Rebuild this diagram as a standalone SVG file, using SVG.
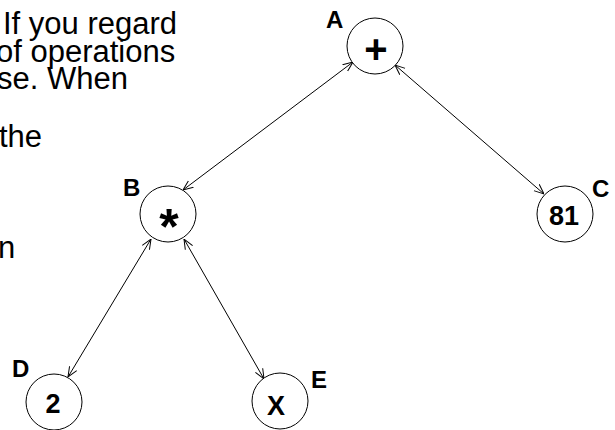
<svg xmlns="http://www.w3.org/2000/svg" width="615" height="430" viewBox="0 0 615 430">
<style>
.para{font-family:"Liberation Sans",Arial,sans-serif;font-size:31px;fill:#000}
.lbl{font-family:"Liberation Sans",Arial,sans-serif;font-size:24px;font-weight:bold;fill:#000}
.val{font-family:"Liberation Sans",Arial,sans-serif;font-size:27px;font-weight:bold;fill:#000;text-anchor:middle}
.node circle{fill:#fff;stroke:#000;stroke-width:1}
.edge{stroke:#000;stroke-width:1;fill:none;marker-start:url(#ah);marker-end:url(#ah)}
</style>
<defs>
<marker id="ah" viewBox="0 0 10 10" refX="10" refY="5" markerWidth="10" markerHeight="10" markerUnits="userSpaceOnUse" orient="auto-start-reverse">
<path d="M0,0.8 L10,5 L0,9.2" fill="none" stroke="#000" stroke-width="1"/>
</marker>
</defs>
<rect width="615" height="430" fill="#fff"/>
<g id="paragraph">
<text class="para" x="3" y="34">If you regard</text>
<text class="para" x="-4" y="62">of operations</text>
<text class="para" x="-3" y="89">se. When</text>
<text class="para" x="-1" y="147">the</text>
<text class="para" x="-2" y="258">n</text>
</g>
<g id="connectors">
<line class="edge" x1="353" y1="62" x2="183" y2="190"/>
<line class="edge" x1="395" y1="65" x2="544" y2="194"/>
<line class="edge" x1="151" y1="239" x2="68" y2="377"/>
<line class="edge" x1="184" y1="239" x2="264" y2="379"/>
</g>
<g id="A" class="node">
<circle cx="375" cy="46" r="28"/>
<text class="val" x="376" y="63" style="font-size:40px">+</text>
<text class="lbl" x="326" y="28">A</text>
</g>
<g id="B" class="node">
<circle cx="168" cy="214" r="28"/>
<text class="val" x="169" y="244" style="font-size:50px">*</text>
<text class="lbl" x="123" y="196">B</text>
</g>
<g id="C" class="node">
<circle cx="565" cy="214" r="28"/>
<text class="val" x="564" y="225">81</text>
<text class="lbl" x="592" y="197">C</text>
</g>
<g id="D" class="node">
<circle cx="54" cy="402" r="28"/>
<text class="val" x="53" y="413">2</text>
<text class="lbl" x="12" y="377">D</text>
</g>
<g id="E" class="node">
<circle cx="280" cy="401" r="28"/>
<text class="val" x="276" y="415">X</text>
<text class="lbl" x="311" y="388">E</text>
</g>
</svg>
